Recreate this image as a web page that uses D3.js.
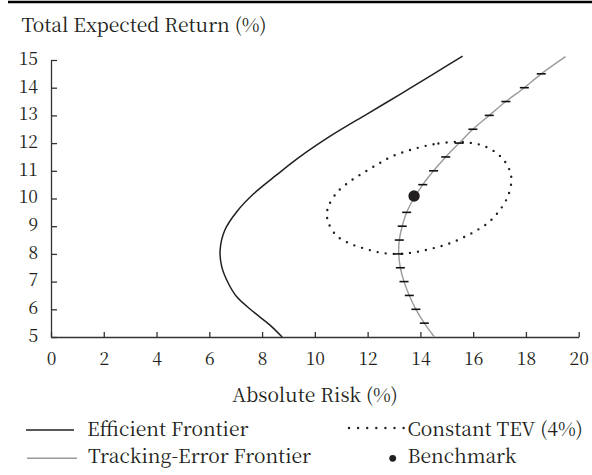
<!DOCTYPE html>
<html>
<head>
<meta charset="utf-8">
<script src="https://cdn.jsdelivr.net/npm/d3@7"></script>
<style>
  body { margin: 0; background: #fff; }
  svg { display: block; }
</style>
</head>
<body>
<svg id="chart" width="592" height="475"></svg>
<script>
// efficient frontier [risk, return]
const efficientRisk   = [8.76, 8.30, 7.67, 7.04, 6.72, 6.47, 6.41, 6.59, 7.04, 7.67, 8.55, 9.44, 10.70, 11.96, 13.23, 14.49, 15.60]
const efficientReturn = [5.00, 5.43, 5.91, 6.45, 6.94, 7.54, 8.14, 8.86, 9.52, 10.16, 10.85, 11.51, 12.32, 13.04, 13.76, 14.49, 15.14]

// tracking-error frontier, one point per marked tick
const teRisk   = [14.53, 14.15, 13.83, 13.58, 13.38, 13.24, 13.18, 13.20, 13.31, 13.48, 13.75, 14.09, 14.50, 14.96, 15.47, 15.99, 16.61, 17.24, 17.94, 18.58, 19.50]
const teReturn = [5.0, 5.5, 6.0, 6.5, 7.0, 7.5, 8.0, 8.5, 9.0, 9.5, 10.0, 10.5, 11.0, 11.5, 12.0, 12.5, 13.0, 13.5, 14.0, 14.5, 15.12]

// constant TEV (4%) ellipse
const tevRisk   = [15.43, 14.50, 13.61, 12.90, 12.37, 11.84, 11.32, 10.84, 10.52, 10.46, 10.50, 10.81, 11.34, 11.93, 12.52, 13.15, 13.78, 14.38, 14.96, 15.53, 16.08, 16.60, 17.01, 17.32, 17.45, 17.41, 17.29, 17.10, 16.88, 16.60, 16.31, 16.02, 15.72]
const tevReturn = [12.05, 11.96, 11.75, 11.51, 11.23, 10.93, 10.61, 10.22, 9.73, 9.47, 9.16, 8.67, 8.37, 8.18, 8.04, 8.00, 8.06, 8.18, 8.33, 8.55, 8.82, 9.15, 9.58, 10.09, 10.64, 10.93, 11.21, 11.45, 11.65, 11.81, 11.93, 11.99, 12.03]

const benchmark = [13.76, 10.09]

const xTicks = [0, 2, 4, 6, 8, 10, 12, 14, 16, 18, 20]
const yTicks = [5, 6, 7, 8, 9, 10, 11, 12, 13, 14, 15]

const FONT = '"Noto Serif CJK SC", "Liberation Serif", serif'
const INK = "#231f20"

const svg = d3.select("#chart")

// rule across the top
svg.append("line")
    .attr("x1", 8).attr("x2", 592).attr("y1", 2).attr("y2", 2)
    .style("stroke", "#000").style("stroke-width", 2.5)

const x = d3.scaleLinear().domain([0, 20]).range([51, 578.7])
const y = d3.scaleLinear().domain([5, 15]).range([337, 60])

const line = d3.line()
    .x(d => x(d[0]))
    .y(d => y(d[1]))
    .curve(d3.curveCatmullRom)

const zip = (a, b) => a.map((v, i) => [v, b[i]])

const label = (sel, size) => sel
    .style("font-family", FONT)
    .style("font-size", size + "px")
    .style("fill", INK)

// axes
const xAxis = svg.append("g")
    .attr("transform", "translate(0,337)")
    .call(d3.axisBottom(x).tickValues(xTicks).tickSize(-5).tickSizeOuter(0).tickPadding(16))
const yAxis = svg.append("g")
    .attr("transform", "translate(51,0)")
    .call(d3.axisLeft(y).tickValues(yTicks).tickSize(-6).tickSizeOuter(0).tickPadding(13))

for (const g of [xAxis, yAxis]) {
    g.attr("font-family", null).attr("font-size", null)
    g.selectAll("path, line").style("stroke", "#333").style("stroke-width", 1.3)
    label(g.selectAll("text"), 17.5)
}
yAxis.selectAll("text").attr("dy", "0.25em")

label(svg.append("text"), 19.3)
    .attr("x", 21.5).attr("y", 31.5)
    .text("Total Expected Return (%)")

label(svg.append("text"), 19.3)
    .attr("x", 315).attr("y", 401.5)
    .attr("text-anchor", "middle")
    .text("Absolute Risk (%)")

// efficient frontier
svg.append("path")
    .datum(zip(efficientRisk, efficientReturn))
    .attr("d", line)
    .style("fill", "none").style("stroke", INK).style("stroke-width", 1.5)

// constant TEV
svg.append("path")
    .datum(zip(tevRisk, tevReturn))
    .attr("d", line.curve(d3.curveCatmullRomClosed))
    .style("fill", "none").style("stroke", INK).style("stroke-width", 2.4)
    .style("stroke-linecap", "round").style("stroke-dasharray", "0 8.1")
line.curve(d3.curveCatmullRom)

// tracking-error frontier
const te = zip(teRisk, teReturn)
svg.append("path")
    .datum(te)
    .attr("d", line)
    .style("fill", "none").style("stroke", "#9a9a9a").style("stroke-width", 1.4)

svg.append("g")
    .selectAll("line")
    .data(te.slice(1, -1))
    .enter()
    .append("line")
    .attr("x1", d => x(d[0]) - 4.5)
    .attr("x2", d => x(d[0]) + 4.5)
    .attr("y1", d => y(d[1]))
    .attr("y2", d => y(d[1]))
    .style("stroke", "#111").style("stroke-width", 1.6)

svg.append("circle")
    .attr("cx", x(benchmark[0]))
    .attr("cy", y(benchmark[1]))
    .attr("r", 5.7)
    .style("fill", INK)

// legend
const legend = svg.append("g")
legend.append("line").attr("x1", 26).attr("x2", 74).attr("y1", 430).attr("y2", 430)
    .style("stroke", INK).style("stroke-width", 1.5)
label(legend.append("text"), 19.3).attr("x", 87).attr("y", 435.7).text("Efficient Frontier")
legend.append("line").attr("x1", 27).attr("x2", 77).attr("y1", 458.3).attr("y2", 458.3)
    .style("stroke", "#9a9a9a").style("stroke-width", 1.4)
label(legend.append("text"), 19.3).attr("x", 88).attr("y", 463.3).text("Tracking-Error Frontier")
legend.append("line").attr("x1", 349).attr("x2", 404).attr("y1", 428).attr("y2", 428)
    .style("stroke", INK).style("stroke-width", 2.4)
    .style("stroke-linecap", "round").style("stroke-dasharray", "0 9.1")
label(legend.append("text"), 19.3).attr("x", 407.5).attr("y", 435.7).text("Constant TEV (4%)")
legend.append("circle").attr("cx", 392.7).attr("cy", 458.3).attr("r", 3.4).style("fill", INK)
label(legend.append("text"), 19.3).attr("x", 407.5).attr("y", 463.3).text("Benchmark")
</script>
</body>
</html>
